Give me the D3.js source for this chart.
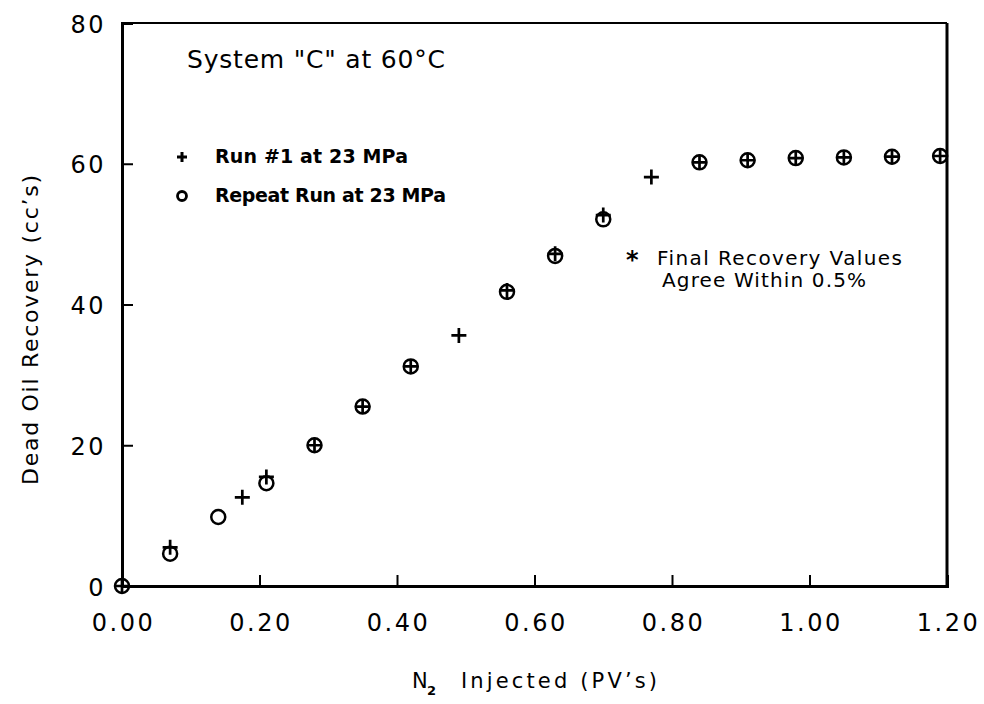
<html lang="en">
<head>
<meta charset="UTF-8">
<title>Dead Oil Recovery</title>
<script src="https://d3js.org/d3.v7.min.js"></script>
<style>
  body { margin: 0; background: #fff; }
  svg text { font-family: "DejaVu Sans", "Liberation Sans", sans-serif; fill: #000; }
</style>
</head>
<body>
<svg id="chart" width="984" height="704"></svg>
<script>
// Run #1 at 23 MPa (plus markers)
const run1X = [0.00, 0.07, 0.175, 0.21, 0.28, 0.35, 0.42, 0.49, 0.56, 0.63, 0.70, 0.77, 0.84, 0.91, 0.98, 1.05, 1.12, 1.19];
const run1Y = [0.0, 5.5, 12.6, 15.5, 20.0, 25.5, 31.2, 35.6, 42.0, 47.2, 52.7, 58.1, 60.2, 60.5, 60.8, 60.9, 61.0, 61.1];
// Repeat run at 23 MPa (circle markers)
const repeatX = [0.00, 0.07, 0.14, 0.21, 0.28, 0.35, 0.42, 0.56, 0.63, 0.70, 0.84, 0.91, 0.98, 1.05, 1.12, 1.19];
const repeatY = [0.0, 4.6, 9.8, 14.6, 20.0, 25.5, 31.2, 41.8, 46.9, 52.1, 60.2, 60.5, 60.8, 60.9, 61.0, 61.1];

const xTicks = [0, 0.2, 0.4, 0.6, 0.8, 1.0, 1.2];
const yTicks = [0, 20, 40, 60, 80];

const svg = d3.select('#chart');
const plotL = 122, plotR = 947, plotT = 23, plotB = 586;

const x = d3.scaleLinear().domain([0, 1.2]).range([plotL, plotR]);
const y = d3.scaleLinear().domain([0, 80]).range([plotB, plotT]);

// frame
svg.append('line').attr('x1', plotL).attr('x2', plotR).attr('y1', plotT).attr('y2', plotT)
    .attr('stroke', '#000').attr('stroke-width', 2);
svg.append('line').attr('x1', plotR).attr('x2', plotR).attr('y1', plotT).attr('y2', plotB)
    .attr('stroke', '#000').attr('stroke-width', 3);

// axes, ticks point inward
const xAxis = d3.axisBottom(x).tickValues(xTicks).tickSize(-11)
    .tickFormat(d3.format('.2f'));
const yAxis = d3.axisLeft(y).tickValues(yTicks).tickSize(-11)
    .tickFormat(d3.format('d'));

const gx = svg.append('g').attr('transform', `translate(0,${plotB})`).call(xAxis);
const gy = svg.append('g').attr('transform', `translate(${plotL},0)`).call(yAxis);

[gx, gy].forEach(g => {
    g.select('.domain').attr('stroke', '#000').attr('stroke-width', 3);
    g.selectAll('.tick line').attr('stroke', '#000').attr('stroke-width', 2);
    g.selectAll('.tick text').style('font-size', '24px').style('letter-spacing', '2.5px')
        .style('font-family', '"DejaVu Sans", sans-serif').attr('fill', '#000');
});
gx.selectAll('.tick text').attr('y', 45).attr('dy', 0).attr('dx', 1);
gy.selectAll('.tick text').attr('x', -16).attr('dy', 0).attr('y', 9);

// axis titles
svg.append('text').attr('x', 412).attr('y', 688).style('font-size', '21px').text('N');
svg.append('text').attr('x', 427).attr('y', 695).style('font-size', '13px').style('font-weight', 'bold').text('2');
svg.append('text').attr('x', 461).attr('y', 688).style('font-size', '21px')
    .attr('textLength', 196).attr('lengthAdjust', 'spacing').text('Injected (PV\u2019s)');

svg.append('text')
    .attr('transform', 'translate(38,330) rotate(-90)')
    .attr('text-anchor', 'middle')
    .style('font-size', '22px')
    .attr('textLength', 310).attr('lengthAdjust', 'spacing')
    .text('Dead Oil Recovery (cc\u2019s)');

// title
svg.append('text').attr('x', 187).attr('y', 68).style('font-size', '25px')
    .attr('textLength', 258).attr('lengthAdjust', 'spacing')
    .text('System "C" at 60\u00b0C');

// markers
function plus(g, cx, cy, s, w) {
    g.append('path').attr('d', `M${cx - s},${cy}H${cx + s}M${cx},${cy - s}V${cy + s}`)
        .attr('stroke', '#000').attr('stroke-width', w).attr('fill', 'none');
}

const marks = svg.append('g');
repeatX.forEach((d, i) => {
    marks.append('circle').attr('cx', x(d)).attr('cy', y(repeatY[i])).attr('r', 7)
        .attr('fill', 'none').attr('stroke', '#000').attr('stroke-width', 2.5);
});
run1X.forEach((d, i) => {
    plus(marks, x(d), y(run1Y[i]), 7.5, 2.7);
});

// legend
plus(svg, 182, 157, 5, 3);
svg.append('circle').attr('cx', 182).attr('cy', 196).attr('r', 4.5)
    .attr('fill', 'none').attr('stroke', '#000').attr('stroke-width', 2.8);
svg.append('text').attr('x', 215).attr('y', 163).style('font-size', '19px').style('font-weight', 'bold')
    .attr('textLength', 193).attr('lengthAdjust', 'spacing').text('Run #1 at 23 MPa');
svg.append('text').attr('x', 215).attr('y', 202).style('font-size', '19px').style('font-weight', 'bold')
    .attr('textLength', 231).attr('lengthAdjust', 'spacing').text('Repeat Run at 23 MPa');

// note
svg.append('text').attr('x', 626).attr('y', 268).style('font-size', '24px').style('font-weight', 'bold')
    .text('*');
svg.append('text').attr('x', 657).attr('y', 265).style('font-size', '20px')
    .attr('textLength', 245).attr('lengthAdjust', 'spacing').text('Final Recovery Values');
svg.append('text').attr('x', 662).attr('y', 287).style('font-size', '20px')
    .attr('textLength', 204).attr('lengthAdjust', 'spacing').text('Agree Within 0.5%');
</script>
</body>
</html>
